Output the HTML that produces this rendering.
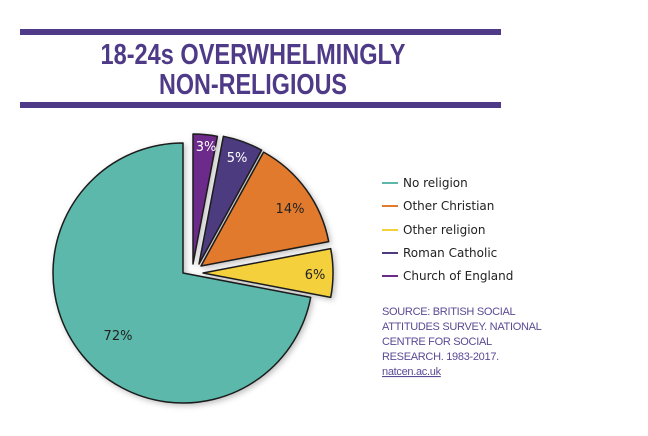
<!DOCTYPE html>
<html><head><style>
body{margin:0;background:#fff;}
svg{display:block}
</style></head><body>
<svg width="648" height="436" viewBox="0 0 648 436" xmlns="http://www.w3.org/2000/svg" font-family="Liberation Sans, sans-serif">
<rect x="20" y="29" width="481" height="6" fill="#4e3a87"/>
<rect x="20" y="102" width="481" height="6" fill="#4e3a87"/>
<text x="253" y="64" text-anchor="middle" font-size="29" font-weight="bold" fill="#4e3a87" textLength="305" lengthAdjust="spacingAndGlyphs">18-24s OVERWHELMINGLY</text>
<text x="253" y="94" text-anchor="middle" font-size="29" font-weight="bold" fill="#4e3a87" textLength="188" lengthAdjust="spacingAndGlyphs">NON-RELIGIOUS</text>
<defs><filter id="sh" x="-20%" y="-20%" width="140%" height="140%"><feDropShadow dx="2" dy="2" stdDeviation="3" flood-color="#000" flood-opacity="0.25"/></filter></defs>
<g stroke="#1a1a1a" stroke-width="1.5" stroke-linejoin="round" filter="url(#sh)">
<!-- teal: clockwise from 100.8deg to 360 -->
<path d="M183,273 L310.7,297.4 A130,130 0 1 1 183,143 Z" fill="#5bb8aa"/>
<g transform="translate(10,-9)"><path d="M183,273 L183,143 A130,130 0 0 1 207.4,145.3 Z" fill="#6c2a8a"/></g>
<g transform="translate(16,-9)"><path d="M183,273 L207.4,145.3 A130,130 0 0 1 245.6,159.1 Z" fill="#4e3a7f"/></g>
<g transform="translate(18,-7)"><path d="M183,273 L245.6,159.1 A130,130 0 0 1 310.7,248.6 Z" fill="#e27a2e"/></g>
<g transform="translate(20,0)"><path d="M183,273 L310.7,248.6 A130,130 0 0 1 310.7,297.4 Z" fill="#f5d03e"/></g>
</g>
<g font-size="13" font-family="DejaVu Sans, sans-serif">
<text x="206" y="151" fill="#fff" text-anchor="middle">3%</text>
<text x="237" y="162" fill="#fff" text-anchor="middle">5%</text>
<text x="290" y="213" fill="#222" text-anchor="middle">14%</text>
<text x="315" y="279" fill="#222" text-anchor="middle">6%</text>
<text x="118" y="340" fill="#222" text-anchor="middle">72%</text>
</g>
<g font-size="12" font-family="DejaVu Sans, sans-serif" fill="#222">
<rect x="382" y="182" width="16" height="2" fill="#5bb8aa"/><text x="403" y="187">No religion</text>
<rect x="382" y="205" width="16" height="2" fill="#e27a2e"/><text x="403" y="210">Other Christian</text>
<rect x="382" y="229" width="16" height="2" fill="#f5d03e"/><text x="403" y="234">Other religion</text>
<rect x="382" y="252" width="16" height="2" fill="#4e3a7f"/><text x="403" y="257">Roman Catholic</text>
<rect x="382" y="275" width="16" height="2" fill="#6c2a8a"/><text x="403" y="280">Church of England</text>
</g>
<g font-size="11" fill="#5a4a94" letter-spacing="-0.3">
<text x="382" y="315">SOURCE: BRITISH SOCIAL</text>
<text x="382" y="330">ATTITUDES SURVEY. NATIONAL</text>
<text x="382" y="345">CENTRE FOR SOCIAL</text>
<text x="382" y="360">RESEARCH. 1983-2017.</text>
<text x="382" y="375" text-decoration="underline">natcen.ac.uk</text>
</g>
</svg>
</body></html>
